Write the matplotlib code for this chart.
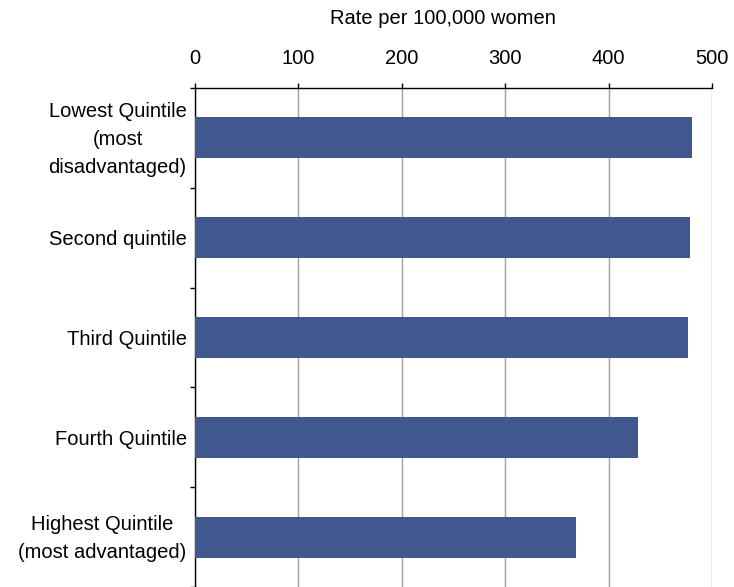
import matplotlib.pyplot as plt
import matplotlib.transforms as mtransforms
import numpy as np

plt.rcParams['font.family'] = ['Liberation Sans', 'DejaVu Sans']

categories = ['Lowest Quintile\n(most\ndisadvantaged)', 'Second quintile',
              'Third Quintile', 'Fourth Quintile',
              'Highest Quintile\n(most advantaged)']
rates = [481, 479, 477, 428, 368]
xticks = [0, 100, 200, 300, 400, 500]

fs = 14.5
fig = plt.figure(figsize=(7.34, 5.87), dpi=100)
# axes box in pixels: x 195-712, y 88-587
ax = fig.add_axes([195/734, 0.0, 517/734, (587-88)/587])

pos = np.arange(len(categories))
ax.barh(pos, rates, height=0.41, color='#41588f', edgecolor='none', zorder=3)

ax.set_xlim(0, 500)
ax.set_ylim(len(categories) - 0.5, -0.5)
ax.xaxis.tick_top()
ax.set_xticks(xticks)
ax.set_xticklabels([str(t) for t in xticks], fontsize=fs)
ax.tick_params(axis='x', direction='out', length=3.6, width=1, pad=11, color='black')
fig.text(443/734, 1 - 19/587, 'Rate per 100,000 women', fontsize=fs,
         ha='center', va='center')

ax.set_yticks(pos)
ax.set_yticklabels(categories, fontsize=fs, multialignment='center',
                   linespacing=1.6)
ax.set_yticks(np.arange(len(categories) + 1) - 0.5, minor=True)
ax.tick_params(axis='y', which='major', length=0, pad=6)
ax.tick_params(axis='y', which='minor', length=3.6, width=1, direction='out')

# nudge the multi-line labels up a little
shift = mtransforms.ScaledTranslation(0, 5/100, fig.dpi_scale_trans)
for lab in ax.get_yticklabels():
    if '\n' in lab.get_text():
        lab.set_transform(lab.get_transform() + shift)

ax.grid(axis='x', color='#a0a0a0', linewidth=1, zorder=0)
ax.set_axisbelow(True)
for s in ['right', 'bottom']:
    ax.spines[s].set_visible(False)
ax.spines['top'].set_linewidth(1)
ax.spines['left'].set_linewidth(1)

fig.savefig('out.png', dpi=100)
